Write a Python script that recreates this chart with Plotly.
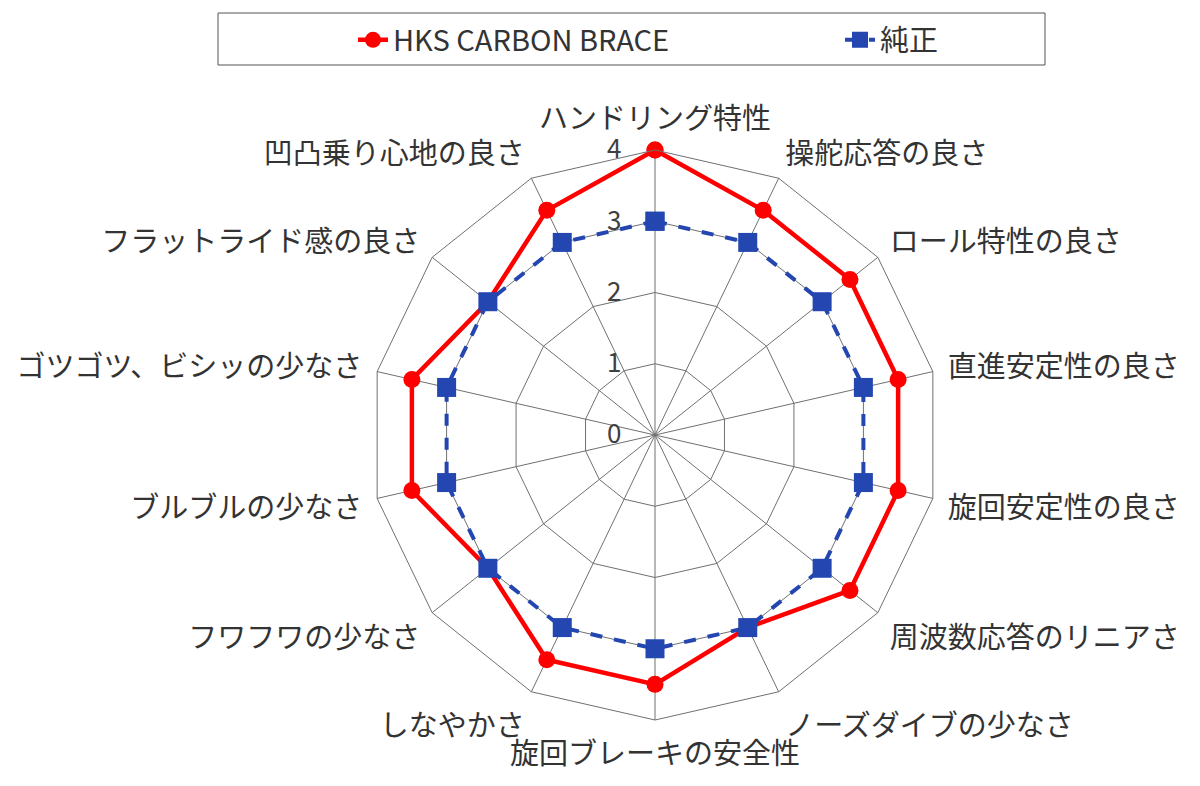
import plotly.graph_objects as go

categories = ['ハンドリング特性', '操舵応答の良さ', 'ロール特性の良さ', '直進安定性の良さ',
              '旋回安定性の良さ', '周波数応答のリニアさ', 'ノーズダイブの少なさ', '旋回ブレーキの安全性',
              'しなやかさ', 'フワフワの少なさ', 'ブルブルの少なさ', 'ゴツゴツ、ビシッの少なさ',
              'フラットライド感の良さ', '凹凸乗り心地の良さ']
hks_values = [4, 3.5, 3.5, 3.5, 3.5, 3.5, 3, 3.5, 3.5, 3, 3.5, 3.5, 3, 3.5]
stock_values = [3, 3, 3, 3, 3, 3, 3, 3, 3, 3, 3, 3, 3, 3]
radial_ticks = [0, 1, 2, 3, 4]

font_jp = 'Noto Sans CJK JP'

# close the loops
theta = categories + categories[:1]

fig = go.Figure()

fig.add_trace(go.Scatterpolar(
    r=hks_values + hks_values[:1],
    theta=theta,
    mode='lines+markers',
    name='HKS CARBON BRACE',
    line=dict(color='#ff0000', width=4.5),
    marker=dict(symbol='circle', size=17, color='#ff0000'),
    legend='legend',
))

fig.add_trace(go.Scatterpolar(
    r=stock_values + stock_values[:1],
    theta=theta,
    mode='lines+markers',
    name='純正',
    line=dict(color='#2346b0', width=4, dash='dash'),
    marker=dict(symbol='square', size=19, color='#2346b0'),
    legend='legend2',
))

W, H = 1200, 786
# page body adds an 8px margin, so pixel targets are shifted back by it
off = 8
cx, cy, rad = 655 - off, 435 - off, 285

legend_style = dict(
    orientation='h', xanchor='left', yanchor='middle', y=1 - (40 - off) / H,
    font=dict(size=29, color='#333333', family=font_jp),
    bgcolor='rgba(0,0,0,0)',
)

fig.update_layout(
    width=W, height=H,
    margin=dict(l=0, r=0, t=0, b=0),
    paper_bgcolor='white',
    showlegend=True,
    font=dict(family=font_jp, color='#333333'),
    polar=dict(
        domain=dict(x=[(cx - rad) / W, (cx + rad) / W],
                    y=[(H - cy - rad) / H, (H - cy + rad) / H]),
        bgcolor='white',
        gridshape='linear',
        angularaxis=dict(
            direction='clockwise', rotation=90,
            gridcolor='#707070', gridwidth=1,
            linecolor='#707070', linewidth=1,
            showline=True,
            # invisible ticks just to push the labels outward a bit
            ticks='outside', ticklen=9, tickcolor='rgba(0,0,0,0)',
            tickfont=dict(size=29, color='#333333', family=font_jp),
        ),
        radialaxis=dict(
            range=[0, 4], tickvals=radial_ticks,
            ticktext=[str(v) + '\u00a0' * 5 for v in radial_ticks],
            angle=90, tickangle=90, side='counterclockwise',
            showline=False, ticks='',
            gridcolor='#707070', gridwidth=1,
            tickfont=dict(size=26, color='#404040', family=font_jp),
        ),
    ),
    legend=dict(legend_style, x=(395 - 42 - off) / W),
    legend2=dict(legend_style, x=(882 - 42 - off) / W),
    shapes=[dict(type='rect', xref='paper', yref='paper',
                 x0=(218 - off) / W, x1=(1045 - off) / W,
                 y0=1 - (65 - off) / H, y1=1 - (13 - off) / H,
                 line=dict(color='#555555', width=1))],
)

fig.write_html('out.html')
